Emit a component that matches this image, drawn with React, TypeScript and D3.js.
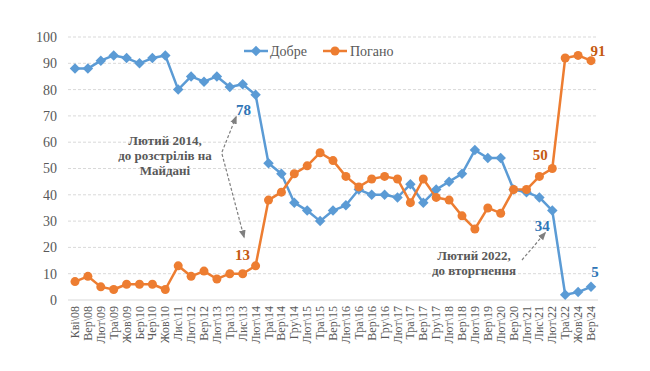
import React, { useEffect } from "react";
import * as d3 from "d3";

const categories = [
  "Кві\\08", "Вер\\08", "Лют\\09", "Тра\\09", "Жов\\09", "Бер\\10", "Чер\\10", "Жов\\10",
  "Лис\\11", "Лют\\12", "Вер\\12", "Лют\\13", "Тра\\13", "Лис\\13", "Лют\\14", "Тра\\14",
  "Вер\\14", "Гру\\14", "Лют\\15", "Тра\\15", "Вер\\15", "Лют\\16", "Тра\\16", "Вер\\16",
  "Гру\\16", "Лют\\17", "Тра\\17", "Вер\\17", "Гру\\17", "Лют\\18", "Вер\\18", "Лют\\19",
  "Вер\\19", "Лют\\20", "Вер\\20", "Лют\\21", "Лис\\21", "Лют\\22", "Тра\\22", "Жов\\24", "Вер\\24",
];

const good = [
  88, 88, 91, 93, 92, 90, 92, 93, 80, 85, 83, 85, 81, 82, 78, 52, 48, 37, 34, 30, 34,
  36, 42, 40, 40, 39, 44, 37, 42, 45, 48, 57, 54, 54, 42, 41, 39, 34, 2, 3, 5,
];

const bad = [
  7, 9, 5, 4, 6, 6, 6, 4, 13, 9, 11, 8, 10, 10, 13, 38, 41, 48, 51, 56, 53,
  47, 43, 46, 47, 46, 37, 46, 39, 38, 32, 27, 35, 33, 42, 42, 47, 50, 92, 93, 91,
];

const yTicks = [0, 10, 20, 30, 40, 50, 60, 70, 80, 90, 100];

const BLUE = "#5B9BD5";
const ORANGE = "#ED7D31";
const BLUE_DARK = "#2E75B6";
const ORANGE_DARK = "#C55A11";
const TEXT = "#595959";
const FONT = "'Times New Roman', 'Liberation Serif', 'DejaVu Serif', serif";

const W = 650;
const H = 371;

export default function App() {
  useEffect(() => {
    document.body.style.margin = "0";
  }, []);

  const x = d3.scalePoint<string>().domain(categories).range([75, 591]);
  const y = d3.scaleLinear().domain([0, 100]).range([300, 37]);

  const line = d3
    .line<number>()
    .x((_, i) => x(categories[i])!)
    .y((d) => y(d));

  const diamond = d3.symbol().type(d3.symbolDiamond2).size(70)()!;

  const lastI = categories.length - 1;
  const i14 = categories.indexOf("Лют\\14");
  const i22 = categories.indexOf("Лют\\22");

  return (
    <svg width={W} height={H} style={{ display: "block", background: "#fff", fontFamily: FONT }}>
      <defs>
        <marker id="arr" viewBox="0 0 10 10" refX="8" refY="5" markerWidth="7" markerHeight="7" orient="auto-start-reverse">
          <path d="M0,1 L10,5 L0,9 z" fill="#7f7f7f" />
        </marker>
      </defs>

      {/* grid + y axis */}
      {yTicks.map((t) => (
        <g key={t}>
          <line
            x1={68}
            x2={598}
            y1={y(t)}
            y2={y(t)}
            stroke="#d9d9d9"
            strokeWidth={1}
            strokeDasharray={t === 0 ? undefined : "3,2"}
          />
          <text x={57} y={y(t)} dy="0.35em" textAnchor="end" style={{ fontFamily: FONT, fontSize: 14 }} fill={TEXT}>
            {t}
          </text>
        </g>
      ))}

      {/* x labels */}
      {categories.map((c) => (
        <text
          key={c}
          transform={`translate(${x(c)! + 4},306) rotate(-90)`}
          textAnchor="end"
          style={{ fontFamily: FONT, fontSize: 12 }}
          fill={TEXT}
        >
          {c}
        </text>
      ))}

      {/* series */}
      <path d={line(good)!} fill="none" stroke={BLUE} strokeWidth={2.5} strokeLinejoin="round" />
      <path d={line(bad)!} fill="none" stroke={ORANGE} strokeWidth={2.5} strokeLinejoin="round" />
      {good.map((v, i) => (
        <path key={"g" + i} d={diamond} transform={`translate(${x(categories[i])},${y(v)})`} fill={BLUE} />
      ))}
      {bad.map((v, i) => (
        <circle key={"b" + i} cx={x(categories[i])} cy={y(v)} r={4.5} fill={ORANGE} />
      ))}

      {/* legend */}
      <g style={{ fontFamily: FONT, fontSize: 14 }} fill={TEXT}>
        <line x1={244} x2={268} y1={51} y2={51} stroke={BLUE} strokeWidth={2.5} />
        <path d={diamond} transform="translate(256,51)" fill={BLUE} />
        <text x={270} y={51} dy="0.35em">Добре</text>
        <line x1={323} x2={347} y1={51} y2={51} stroke={ORANGE} strokeWidth={2.5} />
        <circle cx={335} cy={51} r={4.5} fill={ORANGE} />
        <text x={350} y={51} dy="0.35em">Погано</text>
      </g>

      {/* value labels */}
      <g style={{ fontFamily: FONT, fontSize: 15, fontWeight: "bold" }}>
        <text x={x(categories[i14])! - 12} y={y(good[i14]) + 20} textAnchor="middle" fill={BLUE_DARK}>{good[i14]}</text>
        <text x={x(categories[i14])! - 13} y={y(bad[i14]) - 6} textAnchor="middle" fill={ORANGE_DARK}>{bad[i14]}</text>
        <text x={x(categories[i22])! - 12} y={y(bad[i22]) - 9} textAnchor="middle" fill={ORANGE_DARK}>{bad[i22]}</text>
        <text x={x(categories[i22])! - 10} y={y(good[i22]) + 20} textAnchor="middle" fill={BLUE_DARK}>{good[i22]}</text>
        <text x={x(categories[lastI])! + 7} y={y(bad[lastI]) - 5} textAnchor="middle" fill={ORANGE_DARK}>{bad[lastI]}</text>
        <text x={x(categories[lastI])! + 4} y={y(good[lastI]) - 10} textAnchor="middle" fill={BLUE_DARK}>{good[lastI]}</text>
      </g>

      {/* annotations */}
      <g style={{ fontFamily: FONT, fontSize: 13, fontWeight: "bold" }} fill={TEXT} textAnchor="middle">
        <text x={165} y={145}>Лютий 2014,</text>
        <text x={165} y={160}>до розстрілів на</text>
        <text x={165} y={175}>Майдані</text>
        <text x={474} y={260}>Лютий 2022,</text>
        <text x={474} y={275}>до вторгнення</text>
      </g>
      <g stroke="#7f7f7f" strokeWidth={1.2} strokeDasharray="3,2" fill="none">
        <line x1={222} y1={152} x2={236} y2={117} markerEnd="url(#arr)" />
        <line x1={222} y1={154} x2={244} y2={237} markerEnd="url(#arr)" />
        <line x1={522} y1={260} x2={545} y2={233} markerEnd="url(#arr)" />
      </g>
    </svg>
  );
}
